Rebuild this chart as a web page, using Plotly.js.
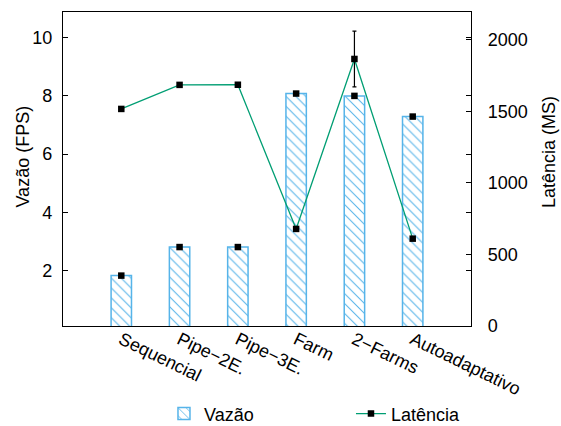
<!DOCTYPE html>
<html>
<head>
<meta charset="utf-8">
<script src="https://cdn.plot.ly/plotly-3.0.1.min.js"></script>
<style>html,body{margin:0;padding:0;background:#fff;}</style>
</head>
<body>
<div id="chart" style="width:561px;height:426px;"></div>
<script>
const categories = ["Sequencial", "Pipe\u22122E.", "Pipe\u22123E.", "Farm", "2\u2212Farms", "Autoadaptativo"];
const vazao = [1.83, 2.81, 2.81, 8.08, 8.0, 7.29];
const latencia = [1516, 1684, 1685, 678, 1865, 610];
const latenciaErro = [0, 0, 0, 0, 195, 0];
const leftTicks = [2, 4, 6, 8, 10];
const rightTicks = [0, 500, 1000, 1500, 2000];

const FONT = "Liberation Sans, Arial, Helvetica, sans-serif";
const BLUE = "#56B4E9";
const GREEN = "#009E73";

const traces = [
  {
    type: "bar", name: "Vazão", x: categories, y: vazao, width: 0.35,
    marker: {color: "white", line: {color: BLUE, width: 1.5},
      pattern: {shape: "\\", fgcolor: BLUE, bgcolor: "white", size: 7, solidity: 0.15}},
    yaxis: "y", legendgroup: "v"
  },
  {
    type: "scatter", mode: "markers", name: "Vazão", x: categories, y: vazao,
    marker: {symbol: "square", size: 6.5, color: "black"},
    showlegend: false, yaxis: "y", legendgroup: "v", cliponaxis: false
  },
  {
    type: "scatter", mode: "lines+markers", name: "Latência", x: categories, y: latencia,
    line: {color: GREEN, width: 1.3},
    marker: {symbol: "square", size: 6.5, color: "black"},
    error_y: {type: "data", array: latenciaErro, visible: true, color: "black", thickness: 1.2, width: 2},
    yaxis: "y2"
  }
];

const layout = {
  width: 561, height: 426,
  margin: {l: 63, r: 90, t: 12, b: 100, autoexpand: false},
  paper_bgcolor: "white", plot_bgcolor: "white",
  font: {family: FONT, size: 18, color: "black"},
  showlegend: true,
  legend: {orientation: "h", x: 0.2475, xanchor: "left", y: -0.28, yanchor: "middle",
    font: {family: FONT, size: 18}, entrywidth: 142, traceorder: "normal"},
  xaxis: {
    type: "category", range: [-1, 6], showline: true, mirror: true, linecolor: "black", linewidth: 1.2,
    ticks: "", showgrid: false, zeroline: false, tickangle: 26, automargin: false,
    ticklabelstandoff: -5,
    tickfont: {family: FONT, size: 18}
  },
  yaxis: {
    range: [0.1, 10.88], tickvals: leftTicks, ticktext: leftTicks.map(String),
    showline: true, mirror: "ticks", linecolor: "black", linewidth: 1.2, automargin: false,
    ticks: "inside", ticklen: 5, tickcolor: "black", showgrid: false, zeroline: false,
    ticklabelstandoff: 6
  },
  yaxis2: {
    overlaying: "y", side: "right", range: [0, 2193], tickvals: rightTicks, ticktext: rightTicks.map(String),
    showline: true, linecolor: "black", linewidth: 1.2, automargin: false,
    ticks: "inside", ticklen: 5, tickcolor: "black", showgrid: false, zeroline: false,
    ticklabelstandoff: 12
  },
  annotations: [
    {text: "Vazão (FPS)", xref: "paper", yref: "paper", x: -0.097, y: 0.541, xanchor: "center", yanchor: "middle",
     textangle: -90, showarrow: false, font: {family: FONT, size: 18}},
    {text: "Latência (MS)", xref: "paper", yref: "paper", x: 1.191, y: 0.554, xanchor: "center", yanchor: "middle",
     textangle: -90, showarrow: false, font: {family: FONT, size: 18}}
  ],
  bargap: 0
};

Plotly.newPlot("chart", traces, layout, {displayModeBar: false, staticPlot: true});
</script>
</body>
</html>
